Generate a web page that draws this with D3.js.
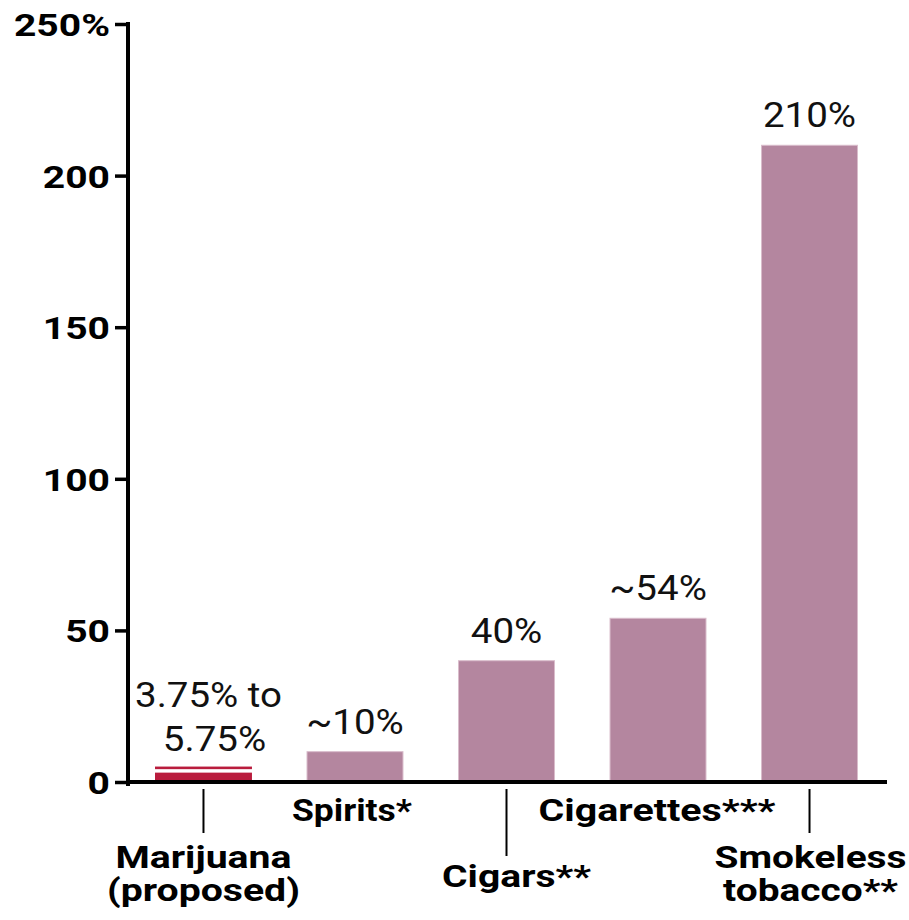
<!DOCTYPE html>
<html><head><meta charset="utf-8">
<script src="https://cdn.jsdelivr.net/npm/d3@7/dist/d3.min.js"></script>
<style>
html,body{margin:0;padding:0;background:#fff;}
text{font-family:Roboto,"Noto Sans",sans-serif;}
</style></head>
<body>
<svg id="chart" width="909" height="920"></svg>
<script>
// ---- data ----
const categories = ["Marijuana (proposed)", "Spirits*", "Cigars**", "Cigarettes***", "Smokeless tobacco**"];
const values = [5.75, 10, 40, 54, 210];
const marijuanaRange = [3.75, 5.75];
const valueLabels = [["3.75% to", "5.75%"], ["~10%"], ["40%"], ["~54%"], ["210%"]];
const categoryLines = [["Marijuana", "(proposed)"], ["Spirits*"], ["Cigars**"], ["Cigarettes***"], ["Smokeless", "tobacco**"]];
const categoryRow = [1, 0, 2, 0, 1]; // stagger level of each category label
const yTicks = [0, 50, 100, 150, 200, 250];
const yTickLabels = ["0", "50", "100", "150", "200", "250%"];

// ---- layout / style ----
const catMaxWidth = [193, 120, 149, 237, 192]; // rendered width of widest label line (px)
const catDx = [0, -3, 10, -1, 1];
const valueLineDx = [[5, 11], [0], [0], [0], [0]];
const valueStretch = 1.1, tickStretch = 1.22;
const svg = d3.select("#chart");
const y = d3.scaleLinear().domain([0, 250]).range([782, 24]);
const x = d3.scaleBand().domain(categories).range([130, 883]).paddingInner(0.36).paddingOuter(0.165);

const barColor = "#b4869f", barEdge = "#d9bccb", red = "#b91c3d";

// bars (all except marijuana)
svg.append("g").selectAll("rect")
  .data(categories.slice(1).map((c, i) => ({c, v: values[i + 1]})))
  .join("rect")
  .attr("x", d => x(d.c) + 0.5)
  .attr("y", d => y(d.v))
  .attr("width", x.bandwidth() - 1)
  .attr("height", d => y(0) - y(d.v))
  .attr("fill", barColor)
  .attr("stroke", barEdge)
  .attr("stroke-width", 1);

// marijuana: filled low part + line at high value
const m = categories[0];
svg.append("rect")
  .attr("x", x(m)).attr("y", y(marijuanaRange[0]) + 2)
  .attr("width", x.bandwidth()).attr("height", y(0) - y(marijuanaRange[0]) - 2)
  .attr("fill", red);
svg.append("rect")
  .attr("x", x(m)).attr("y", y(marijuanaRange[1]) + 2)
  .attr("width", x.bandwidth()).attr("height", 2.6)
  .attr("fill", red);

// value labels
const vl = svg.append("g").attr("font-size", 35).attr("fill", "#111").attr("text-anchor", "middle");
valueLabels.forEach((lines, i) => {
  const cx = x(categories[i]) + x.bandwidth() / 2;
  const base = i === 0 ? y(values[i]) - 14 : y(values[i]) - 18;
  const t = vl.append("text")
    .attr("transform", `translate(${cx},${base - (lines.length - 1) * 44}) scale(${valueStretch},1)`);
  lines.forEach((s, j) => {
    t.append("tspan").attr("x", valueLineDx[i][j] / valueStretch).attr("y", j * 44).text(s);
  });
});

// y axis
const yAxis = d3.axisLeft(y).tickValues(yTicks).tickFormat((d, i) => yTickLabels[i]).tickSize(13).tickPadding(5);
const ga = svg.append("g").attr("transform", "translate(128,0)").call(yAxis);
ga.select(".domain").remove();
ga.selectAll(".tick line").attr("stroke", "#000").attr("stroke-width", 3.5);
ga.selectAll(".tick text").attr("font-size", 32).attr("font-weight", "bold").attr("fill", "#000")
  .attr("font-family", "Roboto, sans-serif").attr("dy", "0.36em")
  .attr("x", 0).attr("transform", `translate(-18,0) scale(${tickStretch},1)`);
svg.append("line").attr("x1", 128).attr("x2", 128).attr("y1", y(250) - 2).attr("y2", y(0) + 4)
  .attr("stroke", "#000").attr("stroke-width", 4);

// x axis baseline
svg.append("line").attr("x1", 126).attr("x2", 887).attr("y1", y(0)).attr("y2", y(0))
  .attr("stroke", "#000").attr("stroke-width", 4);

// category labels (staggered)
const rowBase = [820.5, 867.5, 887];
const tickEnd = [null, 833, 856];
const cl = svg.append("g").attr("font-size", 32).attr("font-weight", "bold").attr("fill", "#000").attr("text-anchor", "middle");
categories.forEach((c, i) => {
  const cx = x(c) + x.bandwidth() / 2;
  const r = categoryRow[i];
  if (r > 0) {
    svg.append("line").attr("x1", cx).attr("x2", cx).attr("y1", 789).attr("y2", tickEnd[r])
      .attr("stroke", "#000").attr("stroke-width", 2);
  }
  const tx0 = cx + catDx[i], ty = rowBase[r];
  const t = cl.append("text").attr("transform", `translate(${tx0},${ty})`);
  const spans = categoryLines[i].map((s, j) => t.append("tspan").attr("x", 0).attr("y", j * 33.5).text(s));
  const maxLen = d3.max(spans, sp => sp.node().getComputedTextLength());
  t.attr("transform", `translate(${tx0},${ty}) scale(${catMaxWidth[i] / maxLen},1)`);
});
</script>
</body></html>
